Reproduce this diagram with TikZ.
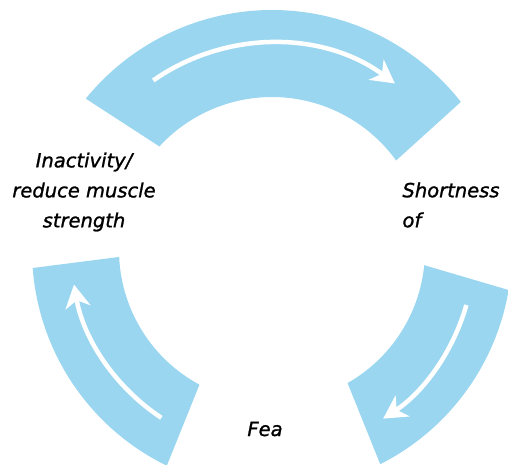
\documentclass[tikz,border=0pt]{standalone}
\usepackage{fontspec}
\setmainfont{DejaVu Sans}[ItalicFont={DejaVu Sans Oblique}, ItalicFeatures={FakeBold=1.2}]
\usetikzlibrary{arrows.meta}
\definecolor{bandblue}{RGB}{155,214,241}
\begin{document}
\begin{tikzpicture}[
  x=1pt, y=1pt,
  band/.style={fill=bandblue, draw=none},
  flow/.style={draw=white, line width=4.5pt,
    -{Stealth[length=23pt, width=25pt, inset=7pt]}},
  caption/.style={font=\fontsize{19.5}{30}\selectfont\itshape, inner sep=0pt},
]
\useasboundingbox (0,0) rectangle (508,464);

% ring segments around a common centre
\begin{scope}[shift={(272,214)}]
  % top segment
  \path[band] (137.4:153pt) arc[start angle=137.4, end angle=35.8, radius=153pt]
    -- (38.1:240pt) arc[start angle=38.1, end angle=140.9, radius=240pt] -- cycle;
  % lower left segment
  \path[band] (182.6:153pt) arc[start angle=182.6, end angle=241.7, radius=153pt]
    -- (244:240pt) arc[start angle=244, end angle=184.3, radius=240pt] -- cycle;
  % lower right segment
  \path[band] (-5.7:153pt) arc[start angle=-5.7, end angle=-60.4, radius=153pt]
    -- (-63.2:240pt) arc[start angle=-63.2, end angle=-9.6, radius=240pt] -- cycle;

  % white flow arrows inside the segments
  \draw[flow] (125:207pt) arc[start angle=125, end angle=53.6, radius=207pt];
  \draw[flow] (-15.8:202pt) arc[start angle=-15.8, end angle=-56.6, radius=202pt];
  \draw[flow] (236.6:201pt) arc[start angle=236.6, end angle=189.9, radius=201pt];
\end{scope}

% labels
\node[caption, align=center] (inact) at (84,272) {Inactivity/\\reduce muscle\\strength};
\node[caption, align=left] (short) at (451,259) {Shortness\\of};
\node[caption, anchor=base] (fear) at (265,28) {Fea};
\end{tikzpicture}
\end{document}
